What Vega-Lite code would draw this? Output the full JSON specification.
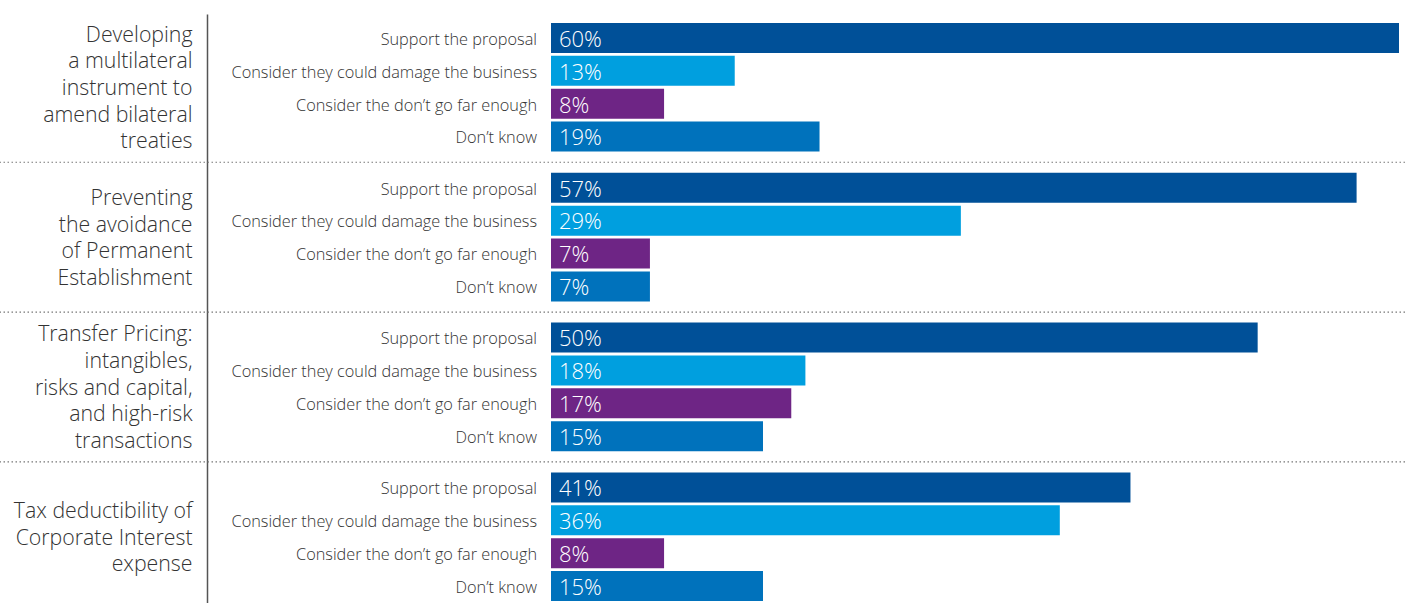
{
  "$schema": "https://vega.github.io/schema/vega-lite/v6.json",
  "width": 1405,
  "height": 603,
  "autosize": "none",
  "padding": 0,
  "config": {"view": {"stroke": null}, "font": "Open Sans"},
  "data": {"values": [
    {"group": "Developing|a multilateral|instrument to|amend bilateral|treaties", "category": "Support the proposal", "value": 0.60},
    {"group": "Developing|a multilateral|instrument to|amend bilateral|treaties", "category": "Consider they could damage the business", "value": 0.13},
    {"group": "Developing|a multilateral|instrument to|amend bilateral|treaties", "category": "Consider the don’t go far enough", "value": 0.08},
    {"group": "Developing|a multilateral|instrument to|amend bilateral|treaties", "category": "Don’t know", "value": 0.19},
    {"group": "Preventing|the avoidance|of Permanent|Establishment", "category": "Support the proposal", "value": 0.57},
    {"group": "Preventing|the avoidance|of Permanent|Establishment", "category": "Consider they could damage the business", "value": 0.29},
    {"group": "Preventing|the avoidance|of Permanent|Establishment", "category": "Consider the don’t go far enough", "value": 0.07},
    {"group": "Preventing|the avoidance|of Permanent|Establishment", "category": "Don’t know", "value": 0.07},
    {"group": "Transfer Pricing:|intangibles,|risks and capital,|and high-risk|transactions", "category": "Support the proposal", "value": 0.50},
    {"group": "Transfer Pricing:|intangibles,|risks and capital,|and high-risk|transactions", "category": "Consider they could damage the business", "value": 0.18},
    {"group": "Transfer Pricing:|intangibles,|risks and capital,|and high-risk|transactions", "category": "Consider the don’t go far enough", "value": 0.17},
    {"group": "Transfer Pricing:|intangibles,|risks and capital,|and high-risk|transactions", "category": "Don’t know", "value": 0.15},
    {"group": "Tax deductibility of|Corporate Interest|expense", "category": "Support the proposal", "value": 0.41},
    {"group": "Tax deductibility of|Corporate Interest|expense", "category": "Consider they could damage the business", "value": 0.36},
    {"group": "Tax deductibility of|Corporate Interest|expense", "category": "Consider the don’t go far enough", "value": 0.08},
    {"group": "Tax deductibility of|Corporate Interest|expense", "category": "Don’t know", "value": 0.15}
  ]},
  "encoding": {
    "y": {
      "field": "group", "type": "nominal",
      "sort": ["Developing|a multilateral|instrument to|amend bilateral|treaties", "Preventing|the avoidance|of Permanent|Establishment", "Transfer Pricing:|intangibles,|risks and capital,|and high-risk|transactions", "Tax deductibility of|Corporate Interest|expense"],
      "scale": {"range": [14, 603], "paddingInner": 0.122, "paddingOuter": 0.0267, "align": 0.9375},
      "axis": {
        "orient": "left", "offset": -207, "title": null,
        "domain": true, "domainColor": "#555555", "domainWidth": 1.5,
        "ticks": false, "grid": false,
        "labelPadding": 15, "labelFontSize": 21.3, "labelColor": "#333333",
        "labelFontWeight": 300,
        "labelLineHeight": 26.7, "labelLimit": 0,
        "labelAlign": "right", "labelBaseline": "middle",
        "labelExpr": "split(datum.label, '|')",
        "labelOffset": {
          "condition": [
            {"test": "length(split(datum.value, '|')) == 5", "value": -51.6},
            {"test": "length(split(datum.value, '|')) == 4", "value": -38.2}
          ],
          "value": -24.9
        }
      }
    }
  },
  "layer": [
    {
      "transform": [{"filter": "datum.category === 'Support the proposal' && indexof(datum.group, 'Developing') < 0"}],
      "mark": {"type": "rule", "strokeDash": [1.5, 2.5], "color": "#777777", "strokeWidth": 1.2},
      "encoding": {"y": {"field": "group", "type": "nominal", "bandPosition": -0.069}}
    },
    {
      "mark": {"type": "bar"},
      "encoding": {
        "x": {"field": "value", "type": "quantitative", "scale": {"domain": [0, 0.6], "range": [551, 1399], "nice": false}, "axis": null},
        "yOffset": {"field": "category", "type": "nominal", "sort": null, "scale": {"paddingInner": 0.088, "paddingOuter": 0.044}},
        "color": {
          "field": "category", "type": "nominal", "legend": null,
          "scale": {
            "domain": ["Support the proposal", "Consider they could damage the business", "Consider the don’t go far enough", "Don’t know"],
            "range": ["#005098", "#009FDF", "#6E2585", "#0072BC"]
          }
        }
      }
    },
    {
      "mark": {"type": "text", "align": "right", "dx": -14, "dy": 1.8, "fontSize": 16.3, "color": "#333333", "fontWeight": 300},
      "encoding": {
        "x": {"datum": 0, "type": "quantitative"},
        "yOffset": {"field": "category", "type": "nominal", "sort": null},
        "text": {"field": "category"}
      }
    },
    {
      "mark": {"type": "text", "align": "left", "dx": 8, "dy": 1.8, "fontSize": 22, "color": "white", "fontWeight": 300},
      "encoding": {
        "x": {"datum": 0, "type": "quantitative"},
        "yOffset": {"field": "category", "type": "nominal", "sort": null},
        "text": {"field": "value", "type": "quantitative", "format": ".0%"}
      }
    }
  ]
}
